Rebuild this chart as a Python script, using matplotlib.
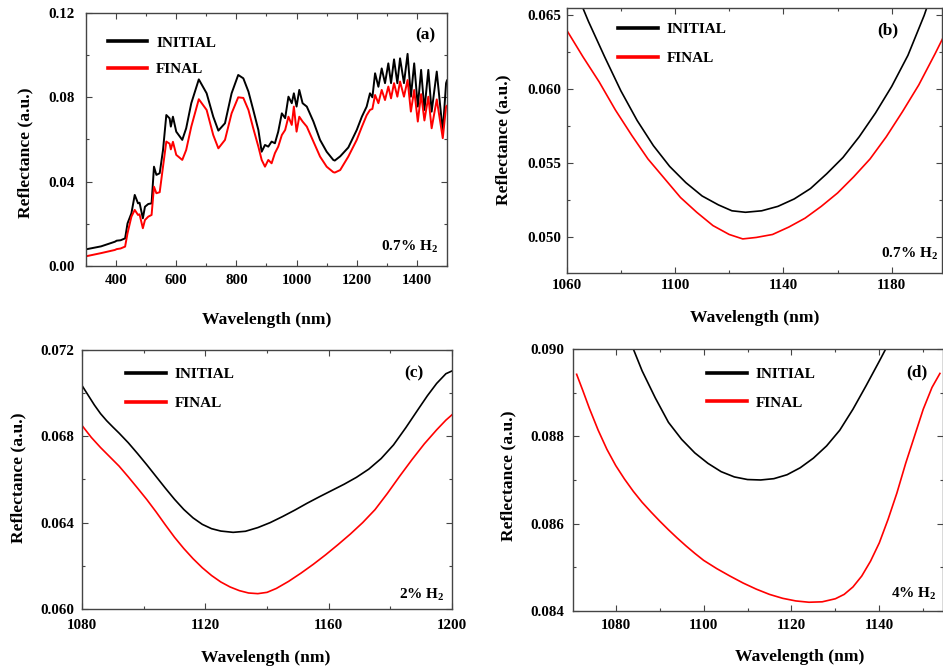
import matplotlib
matplotlib.use("Agg")
import matplotlib.pyplot as plt
import matplotlib.ticker as ticker

plt.rcParams['font.family'] = ['Liberation Serif', 'DejaVu Serif']
plt.rcParams['font.weight'] = 'bold'
plt.rcParams['mathtext.fontset'] = 'custom'
plt.rcParams['mathtext.rm'] = 'Liberation Serif:bold'

# ---- panel (a): full spectrum, 0.7% H2 ----
wl_a = [300, 350, 396, 402, 415, 430, 438, 451, 462, 473, 478, 489, 496, 507, 518,
        526, 534, 545, 556, 567, 578, 582, 589, 600, 620, 633, 650, 675, 701, 723,
        740, 762, 784, 806, 823, 840, 856, 873, 884, 895, 906, 917, 928, 939, 951,
        962, 973, 984, 991, 1000, 1009, 1020, 1034, 1056, 1078, 1100, 1122, 1127,
        1145, 1172, 1200, 1217, 1233, 1244, 1252, 1261, 1272, 1283, 1294, 1305,
        1314, 1324, 1335, 1344, 1357, 1369, 1380, 1391, 1403, 1414, 1425, 1438,
        1449, 1466, 1486, 1497, 1500]
init_a = [0.0079, 0.0093, 0.0115, 0.0120, 0.0122, 0.0131, 0.0202, 0.0250, 0.0337,
          0.0297, 0.0300, 0.0226, 0.0281, 0.0294, 0.0297, 0.0471, 0.0432, 0.0440,
          0.0550, 0.0716, 0.0700, 0.0661, 0.0708, 0.0637, 0.0598, 0.0653, 0.0772,
          0.0885, 0.0819, 0.0708, 0.0642, 0.0677, 0.0819, 0.0906, 0.0890, 0.0827,
          0.0740, 0.0645, 0.0542, 0.0574, 0.0566, 0.0590, 0.0582, 0.0637, 0.0724,
          0.0701, 0.0803, 0.0772, 0.0819, 0.0756, 0.0835, 0.0772, 0.0756, 0.0685,
          0.0598, 0.0542, 0.0503, 0.0500, 0.0520, 0.0562, 0.0645, 0.0708, 0.0756,
          0.0819, 0.0800, 0.0914, 0.0850, 0.0937, 0.0867, 0.0961, 0.0867, 0.0980,
          0.0867, 0.0985, 0.0867, 0.1006, 0.0803, 0.0961, 0.0756, 0.0930, 0.0740,
          0.0930, 0.0732, 0.0922, 0.0637, 0.0867, 0.0880]
final_a = [0.0046, 0.0061, 0.0076, 0.0080, 0.0083, 0.0092, 0.0155, 0.0234, 0.0266,
           0.0242, 0.0245, 0.0179, 0.0218, 0.0234, 0.0242, 0.0376, 0.0345, 0.0350,
           0.0471, 0.0590, 0.0580, 0.0553, 0.0589, 0.0527, 0.0503, 0.0550, 0.0661,
           0.0791, 0.0740, 0.0621, 0.0558, 0.0598, 0.0724, 0.0800, 0.0797, 0.0740,
           0.0653, 0.0566, 0.0503, 0.0471, 0.0503, 0.0487, 0.0535, 0.0566, 0.0621,
           0.0645, 0.0708, 0.0669, 0.0756, 0.0637, 0.0708, 0.0685, 0.0661, 0.0590,
           0.0519, 0.0471, 0.0445, 0.0443, 0.0455, 0.0519, 0.0598, 0.0660, 0.0715,
           0.0740, 0.0745, 0.0811, 0.0772, 0.0835, 0.0787, 0.0851, 0.0795, 0.0867,
           0.0803, 0.0875, 0.0803, 0.0882, 0.0732, 0.0835, 0.0685, 0.0815, 0.0690,
           0.0803, 0.0653, 0.0790, 0.0606, 0.0756, 0.0760]

# ---- panel (b): zoom on the 1125 nm dip, 0.7% H2 ----
wl_b_init = [1063, 1068, 1074, 1080, 1086, 1092, 1098, 1104, 1110, 1116, 1121, 1126,
             1132, 1138, 1144, 1150, 1156, 1162, 1168, 1174, 1180, 1186, 1192, 1195]
init_b = [0.0668, 0.0646, 0.0622, 0.0599, 0.0579, 0.0562, 0.0548, 0.0537, 0.0528,
          0.0522, 0.0518, 0.0517, 0.0518, 0.0521, 0.0526, 0.0533, 0.0543, 0.0554,
          0.0568, 0.0584, 0.0602, 0.0623, 0.0650, 0.0666]
wl_b_fin = [1060, 1066, 1072, 1078, 1084, 1090, 1096, 1102, 1108, 1114, 1120, 1125,
            1130, 1136, 1142, 1148, 1154, 1160, 1166, 1172, 1178, 1184, 1190, 1196, 1199]
final_b = [0.0640, 0.0622, 0.0605, 0.0586, 0.0569, 0.0553, 0.0540, 0.0527, 0.0517,
           0.0508, 0.0502, 0.0499, 0.0500, 0.0502, 0.0507, 0.0513, 0.0521, 0.0530,
           0.0541, 0.0553, 0.0568, 0.0585, 0.0603, 0.0624, 0.0635]

# ---- panel (c): 2% H2 ----
wl_c = [1080, 1082, 1084, 1086, 1088, 1090, 1092, 1095, 1098, 1101, 1104, 1107,
        1110, 1113, 1116, 1119, 1122, 1125, 1129, 1133, 1137, 1141, 1145, 1149,
        1153, 1157, 1161, 1165, 1169, 1173, 1177, 1181, 1185, 1189, 1192, 1195,
        1198, 1200]
init_c = [0.07035, 0.06990, 0.06945, 0.06905, 0.06872, 0.06843, 0.06815, 0.06770,
          0.06720, 0.06668, 0.06614, 0.06560, 0.06508, 0.06461, 0.06422, 0.06392,
          0.06372, 0.06361, 0.06355, 0.06360, 0.06377, 0.06400, 0.06428, 0.06458,
          0.06490, 0.06520, 0.06549, 0.06578, 0.06610, 0.06648, 0.06697, 0.06760,
          0.06840, 0.06925, 0.06988, 0.07045, 0.07090, 0.07103]
wl_c_fin = [1080, 1083, 1086, 1089, 1092, 1095, 1098, 1101, 1104, 1107, 1110, 1113,
            1116, 1119, 1122, 1125, 1128, 1131, 1134, 1137, 1140, 1143, 1147, 1151,
            1155, 1159, 1163, 1167, 1171, 1175, 1179, 1183, 1187, 1191, 1195, 1198, 1200]
final_c = [0.06850, 0.06795, 0.06748, 0.06705, 0.06662, 0.06612, 0.06560, 0.06507,
           0.06450, 0.06390, 0.06332, 0.06280, 0.06233, 0.06191, 0.06155, 0.06125,
           0.06102, 0.06085, 0.06074, 0.06071, 0.06077, 0.06095, 0.06128, 0.06166,
           0.06207, 0.06251, 0.06298, 0.06347, 0.06400, 0.06460, 0.06535, 0.06615,
           0.06692, 0.06765, 0.06830, 0.06875, 0.06900]

# ---- panel (d): 4% H2 ----
wl_d_init = [1083.6, 1086, 1089, 1092, 1095, 1098, 1101, 1104, 1107, 1110, 1113,
             1116, 1119, 1122, 1125, 1128, 1131, 1134, 1137, 1140, 1142.5]
init_d = [0.09010, 0.08950, 0.08888, 0.08832, 0.08793, 0.08762, 0.08738, 0.08719,
          0.08707, 0.08701, 0.08700, 0.08703, 0.08712, 0.08728, 0.08750, 0.08778,
          0.08814, 0.08862, 0.08916, 0.08972, 0.09020]
wl_d_fin = [1071.1, 1072.5, 1074, 1076, 1078, 1080, 1082, 1084, 1086, 1088, 1090,
            1092, 1094, 1096, 1098, 1100, 1103, 1106, 1109, 1112, 1115, 1118, 1121,
            1124, 1127, 1130, 1132, 1134, 1136, 1138, 1140, 1142, 1144, 1146, 1148,
            1150, 1152, 1153.8]
final_d = [0.08942, 0.08905, 0.08864, 0.08814, 0.08770, 0.08733, 0.08702, 0.08674,
           0.08649, 0.08627, 0.08606, 0.08586, 0.08567, 0.08549, 0.08532, 0.08516,
           0.08497, 0.08480, 0.08464, 0.08450, 0.08438, 0.08429, 0.08423, 0.08420,
           0.08421, 0.08428, 0.08438, 0.08455, 0.08480, 0.08514, 0.08556, 0.08610,
           0.08670, 0.08738, 0.08800, 0.08862, 0.08912, 0.08944]

fig = plt.figure(figsize=(9.43, 6.72), dpi=100)

axa = fig.add_axes([0.0912, 0.6042, 0.3828, 0.3765])
axb = fig.add_axes([0.6010, 0.5938, 0.3977, 0.3943])
axc = fig.add_axes([0.0870, 0.0938, 0.3924, 0.3854])
axd = fig.add_axes([0.6073, 0.0908, 0.3927, 0.3899])

panels = [
    # ax, init x, init y, final x, final y, xlim, ylim, xmaj, xoff, xmin, ymaj, ymin, yfmt, lw
    (axa, wl_a, init_a, wl_a, final_a, (300, 1500), (0, 0.12), 200, 0, 100, 0.04, 0.02, '%.2f', 1.4),
    (axb, wl_b_init, init_b, wl_b_fin, final_b, (1060, 1198.5), (0.0476, 0.0655), 40, 20, 20, 0.005, 0.0025, '%.3f', 1.2),
    (axc, wl_c, init_c, wl_c_fin, final_c, (1080, 1200), (0.060, 0.072), 40, 0, 20, 0.004, 0.002, '%.3f', 1.2),
    (axd, wl_d_init, init_d, wl_d_fin, final_d, (1070.2, 1154.5), (0.084, 0.090), 20, 0, 10, 0.002, 0.001, '%.3f', 1.2),
]

for ax, xi, yi, xf, yf, xl, yl, xmaj, xoff, xmin, ymaj, ymin, yfmt, lw in panels:
    ax.plot(xi, yi, color='black', lw=lw, label='INITIAL')
    ax.plot(xf, yf, color='#ff0000', lw=lw, label='FINAL')
    ax.set_xlim(*xl)
    ax.set_ylim(*yl)
    ax.xaxis.set_major_locator(ticker.MultipleLocator(xmaj, offset=xoff))
    ax.xaxis.set_minor_locator(ticker.MultipleLocator(xmin))
    ax.yaxis.set_major_locator(ticker.MultipleLocator(ymaj))
    ax.yaxis.set_minor_locator(ticker.MultipleLocator(ymin))
    ax.yaxis.set_major_formatter(ticker.FormatStrFormatter(yfmt))
    ax.tick_params(which='both', direction='in', top=True, right=True,
                   labelsize=10.8, color='#444444')
    ax.tick_params(which='major', length=4, width=0.8)
    ax.tick_params(which='minor', length=2.5, width=0.8)
    for s in ax.spines.values():
        s.set_linewidth(1.0)
        s.set_color('#444444')
    ax.set_xlabel('Wavelength (nm)', fontsize=12.6, fontweight='bold')
    ax.set_ylabel('Reflectance (a.u.)', fontsize=12.6, fontweight='bold')

# tick label pads
axa.tick_params(axis='x', pad=6); axa.tick_params(axis='y', pad=8)
axb.tick_params(axis='x', pad=4.7); axb.tick_params(axis='y', pad=3.6)
axc.tick_params(axis='x', pad=7.5); axc.tick_params(axis='y', pad=5.8)
axd.tick_params(axis='x', pad=6); axd.tick_params(axis='y', pad=6.3)

# axis label positions
axa.xaxis.set_label_coords(0.5, -0.182); axa.yaxis.set_label_coords(-0.147, 0.447)
axb.xaxis.set_label_coords(0.502, -0.14); axb.yaxis.set_label_coords(-0.1485, 0.502)
axc.xaxis.set_label_coords(0.497, -0.158); axc.yaxis.set_label_coords(-0.151, 0.508)
axd.xaxis.set_label_coords(0.614, -0.147); axd.yaxis.set_label_coords(-0.153, 0.517)

# legends
leg_opts = [(axa, 0.061, 0.909, 0.83, 2.55),
            (axb, 0.137, 0.946, 1.0, 2.6),
            (axc, 0.119, 0.932, 0.98, 2.6),
            (axd, 0.363, 0.930, 0.98, 2.6)]
for ax, lx, ly, lsp, hl in leg_opts:
    leg = ax.legend(loc='upper left', bbox_to_anchor=(lx, ly), frameon=False,
                    borderpad=0, borderaxespad=0, handlelength=hl,
                    handletextpad=0.6, labelspacing=lsp,
                    prop={'family': 'Liberation Serif', 'weight': 'bold', 'size': 11})
    for line in leg.get_lines():
        line.set_linewidth(2.6)

# panel tags and gas concentration
tags = [(axa, '(a)', 0.967, 0.913, '0.7% H$_2$', 0.975, 0.076),
        (axb, '(b)', 0.883, 0.914, '0.7% H$_2$', 0.99, 0.074),
        (axc, '(c)', 0.922, 0.910, '2% H$_2$', 0.981, 0.057),
        (axd, '(d)', 0.957, 0.910, '4% H$_2$', 0.984, 0.068)]
for ax, tag, tx, ty, gas, gx, gy in tags:
    ax.text(tx, ty, tag, transform=ax.transAxes, ha='right', va='center',
            fontsize=12.5, fontweight='bold')
    ax.text(gx, gy, gas, transform=ax.transAxes, ha='right', va='center',
            fontsize=11, fontweight='bold')

plt.savefig('out.png', dpi=100)
